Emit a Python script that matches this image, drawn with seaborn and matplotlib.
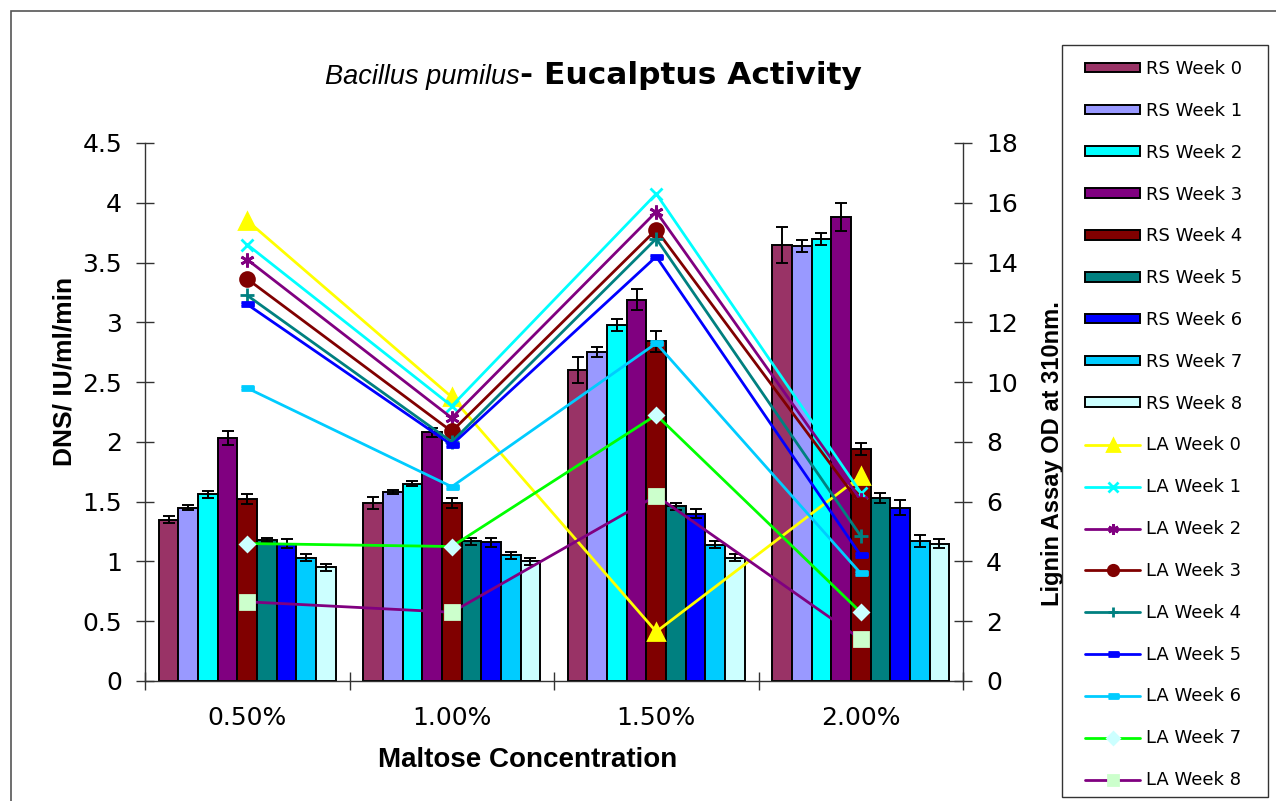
import numpy as np
import pandas as pd
import matplotlib
matplotlib.use("Agg")
import matplotlib.pyplot as plt
import seaborn as sns
from matplotlib.patches import Rectangle
from matplotlib.ticker import MultipleLocator, StrMethodFormatter

# ---- data -------------------------------------------------------------
concentrations = ['0.50%', '1.00%', '1.50%', '2.00%']
rs_labels = ['RS Week 0', 'RS Week 1', 'RS Week 2', 'RS Week 3', 'RS Week 4',
             'RS Week 5', 'RS Week 6', 'RS Week 7', 'RS Week 8']
la_labels = ['LA Week 0', 'LA Week 1', 'LA Week 2', 'LA Week 3', 'LA Week 4',
             'LA Week 5', 'LA Week 6', 'LA Week 7', 'LA Week 8']

# reducing sugar (left axis): one row per week, one column per concentration
rs_means = [
    [1.35, 1.49, 2.60, 3.65],
    [1.45, 1.58, 2.75, 3.64],
    [1.56, 1.65, 2.98, 3.70],
    [2.03, 2.08, 3.19, 3.88],
    [1.52, 1.49, 2.84, 1.94],
    [1.18, 1.17, 1.46, 1.53],
    [1.15, 1.16, 1.40, 1.45],
    [1.03, 1.05, 1.14, 1.17],
    [0.95, 1.00, 1.03, 1.15],
]
rs_errors = [
    [0.03, 0.05, 0.11, 0.15],
    [0.02, 0.02, 0.04, 0.05],
    [0.03, 0.02, 0.05, 0.05],
    [0.06, 0.04, 0.09, 0.12],
    [0.04, 0.04, 0.09, 0.05],
    [0.02, 0.03, 0.03, 0.04],
    [0.04, 0.04, 0.04, 0.06],
    [0.03, 0.03, 0.03, 0.05],
    [0.03, 0.03, 0.03, 0.04],
]
# lignin assay (right axis)
la_values = [
    [15.4, 9.5, 1.65, 6.85],
    [14.6, 9.2, 16.3, 6.3],
    [14.1, 8.8, 15.7, 6.05],
    [13.45, 8.35, 15.1, 5.9],
    [12.9, 8.0, 14.8, 4.85],
    [12.6, 7.9, 14.2, 4.2],
    [9.8, 6.5, 11.3, 3.6],
    [4.6, 4.5, 8.9, 2.3],
    [2.65, 2.3, 6.2, 1.4],
]

# ---- styles -----------------------------------------------------------
rs_colors = ['#993366', '#9999FF', '#00FFFF', '#800080', '#800000',
             '#008080', '#0000FF', '#00CCFF', '#CCFFFF']
la_colors = ['#FFFF00', '#00FFFF', '#800080', '#800000', '#008080',
             '#0000FF', '#00CCFF', '#00FF00', '#800080']
la_face = ['#FFFF00', '#00FFFF', '#800080', '#800000', '#008080',
           '#0000FF', '#00CCFF', '#CCFFFF', '#CCFFCC']
dash = [(-1, -0.35), (1, -0.35), (1, 0.35), (-1, 0.35)]
la_markers = ['^', 'x', (6, 2, 0), 'o', '+', dash, dash, 'D', 's']
la_msize = [11, 9, 10, 10, 10, 9, 9, 7.5, 9.5]

sns.set_style("ticks")
plt.rcParams['font.family'] = ['DejaVu Sans']
plt.rcParams['text.color'] = 'black'
plt.rcParams['axes.labelcolor'] = 'black'
plt.rcParams['xtick.color'] = 'black'
plt.rcParams['ytick.color'] = 'black'

W, H = 1276, 801
fig = plt.figure(figsize=(W / 100, H / 100), dpi=100)
ax = fig.add_axes([145 / W, 1 - 681 / H, (963 - 145) / W, (681 - 143) / H])

# bars
rows = []
for w, lab in enumerate(rs_labels):
    for c, conc in enumerate(concentrations):
        rows.append({'conc': conc, 'series': lab, 'value': rs_means[w][c]})
df = pd.DataFrame(rows)

sns.barplot(data=df, x='conc', y='value', hue='series', order=concentrations,
            hue_order=rs_labels, palette=rs_colors, saturation=1, width=0.865,
            gap=0, edgecolor='black', linewidth=1.4, errorbar=None,
            legend=False, ax=ax)

bar_groups = list(ax.containers)
for w, cont in enumerate(bar_groups):
    xs = [b.get_x() + b.get_width() / 2 for b in cont]
    ax.errorbar(xs, rs_means[w], yerr=rs_errors[w], fmt='none', ecolor='black',
                elinewidth=1.4, capsize=4.5, capthick=1.4, zorder=3)

# lines on secondary axis
ax2 = ax.twinx()
xpos = np.arange(len(concentrations))
for w, lab in enumerate(la_labels):
    sns.lineplot(x=xpos, y=la_values[w], ax=ax2, color=la_colors[w],
                 linewidth=2, marker=la_markers[w], markersize=la_msize[w],
                 markerfacecolor=la_face[w], markeredgecolor=la_face[w],
                 markeredgewidth=2, label=lab, legend=False)

ax.set_xlim(-0.5, 3.5)
ax.set_ylim(0, 4.5)
ax2.set_ylim(0, 18)

# axes styling
ax.set_xticks([-0.5, 0.5, 1.5, 2.5, 3.5])
ax.set_xticklabels([])
ax.set_xticks(xpos, labels=concentrations, minor=True)
ax.tick_params(axis='x', which='major', direction='inout', length=13, width=1,
               color='#333333')
ax.tick_params(axis='x', which='minor', length=0, pad=18, labelsize=18)
ax.yaxis.set_major_locator(MultipleLocator(0.5))
ax.yaxis.set_major_formatter(StrMethodFormatter('{x:g}'))
ax.tick_params(axis='y', direction='inout', length=13, width=1, pad=10,
               labelsize=18, color='#333333')
ax2.yaxis.set_major_locator(MultipleLocator(2))
ax2.tick_params(axis='y', direction='inout', length=13, width=1, pad=10,
                labelsize=18, color='#333333')

for a in (ax, ax2):
    a.spines['top'].set_visible(False)
    for s in a.spines.values():
        s.set_color('#333333')
        s.set_linewidth(1)
ax.spines['right'].set_visible(False)
ax2.spines['left'].set_visible(False)
ax2.spines['bottom'].set_visible(False)

ax.set_xlabel('Maltose Concentration', fontsize=20, weight='bold',
              family='Liberation Sans')
ax.xaxis.set_label_coords((528 - 145) / 818, (681 - 760) / 538)
ax.xaxis.label.set_va('center')
ax.set_ylabel('DNS/ IU/ml/min', fontsize=19, weight='bold',
              family='Liberation Sans')
ax.yaxis.set_label_coords((65 - 145) / 818, (681 - 371) / 538)
ax.yaxis.label.set_va('center')
ax2.set_ylabel('Lignin Assay OD at 310nm.', fontsize=17, weight='bold',
               family='Liberation Sans', rotation=90)
ax2.yaxis.set_label_coords((1052 - 145) / 818, (681 - 454) / 538)
ax2.yaxis.label.set_va('center')

# title: italic species name + bold remainder
fig.text(520 / W, 1 - 84 / H, 'Bacillus pumilus', style='italic', ha='right',
         va='baseline', fontsize=19.5, family='Liberation Sans')
fig.text(520 / W, 1 - 84 / H, '- Eucalptus Activity', weight='bold', ha='left',
         va='baseline', fontsize=22.5)

# legend
handles = [cont[0] for cont in bar_groups] + list(ax2.get_lines())
labels = rs_labels + la_labels
fig.legend(handles, labels, loc='upper left',
           bbox_to_anchor=(1085 / W, 1 - 60 / H), bbox_transform=fig.transFigure,
           frameon=False, borderpad=0, borderaxespad=0, handlelength=3.05,
           handleheight=0.45, handletextpad=0.35, labelspacing=1.32,
           fontsize=13, numpoints=1, markerscale=0.75)
fig.add_artist(Rectangle((1062 / W, 1 - 797 / H), 206 / W, 752 / H,
                         transform=fig.transFigure, fill=False,
                         edgecolor='#333333', linewidth=1))
fig.add_artist(Rectangle((11 / W, -0.01), 1.0, 1 - 11 / H + 0.01,
                         transform=fig.transFigure, fill=False,
                         edgecolor='#555555', linewidth=1.2))

fig.savefig('out.png', dpi=100, facecolor='white')
